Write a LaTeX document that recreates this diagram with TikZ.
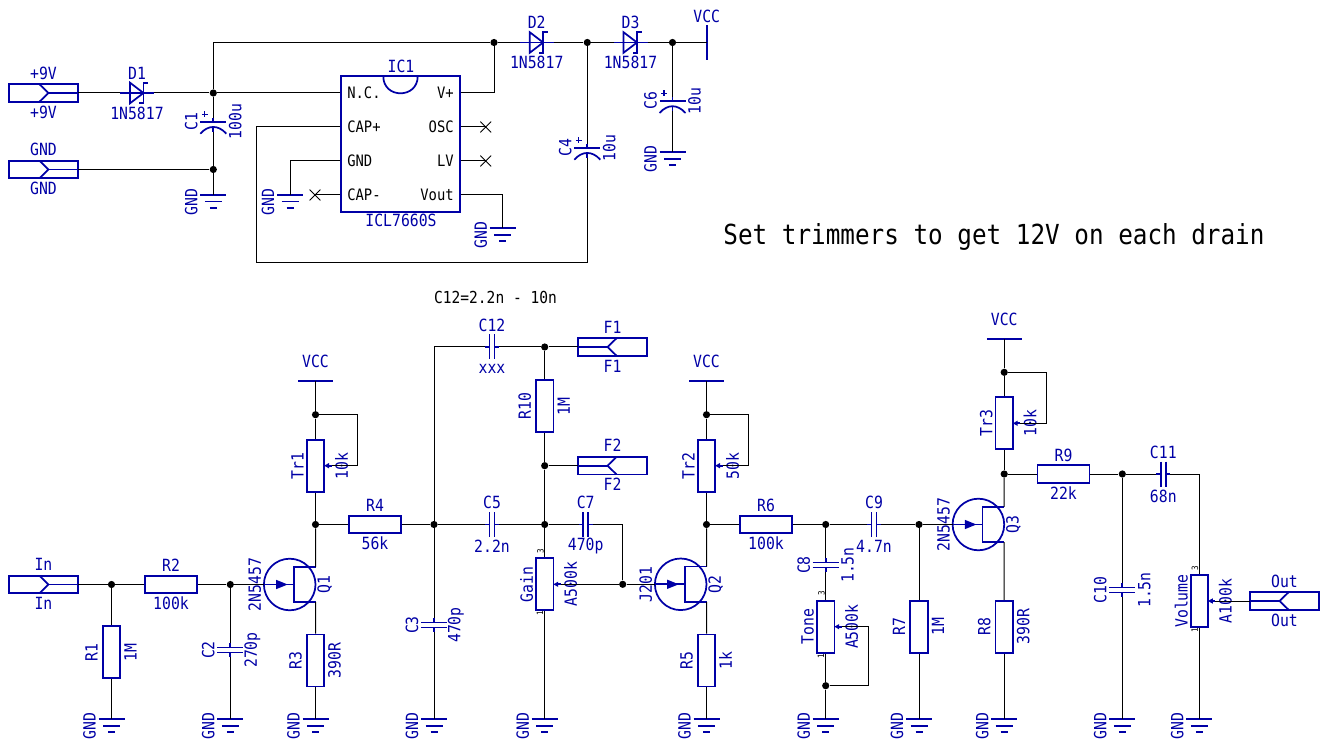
\documentclass[tikz,border=0pt]{standalone}
\usepackage{fontspec}
\setmainfont[FakeStretch=0.88]{DejaVu Sans Mono}
\usepackage{tikz}
\usetikzlibrary{calc}
\usetikzlibrary{shapes.misc}
\definecolor{partblue}{rgb}{0, 0, 0.65}

\tikzset{
    part/.style={draw=partblue, line width=1.3pt},
    wire/.style={draw=black, line width=0.75pt},
    tag/.style={text=partblue, inner sep=0pt, font=\fontsize{12.6}{13}\selectfont},
    tagv/.style={tag, rotate=90},
    pintext/.style={text=black, inner sep=0pt, font=\fontsize{11.8}{12}\selectfont},
    pinno/.style={text=black, inner sep=0pt, rotate=90, font=\fontsize{6.5}{7}\selectfont},
    note/.style={text=black, inner sep=0pt},
    dot/.style={circle, fill=black, inner sep=0pt, minimum size=5.4pt},
    nc/.style={cross out, draw=black, line width=0.6pt, inner sep=0pt, minimum size=7.5pt},
    pics/gnd/.style={code={
        \coordinate (-pin) at (0,0);
        \draw[part] (-13,0) -- (13,0);
        \draw[part] (-8.5,6.5) -- (8.5,6.5);
        \draw[part] (-3.5,13) -- (3.5,13);
        \node[tagv] (-tag) at (-22,7) {GND};
    }},
    pics/vcc/.style={code={
        \coordinate (-pin) at (0,0);
        \draw[part] (-17.3,0) -- (17.3,0);
    }},
    pics/jack/.style={code={
        \coordinate (-pin) at (34.5,0);
        \draw[part] (-34.5,-8.7) rectangle (34.5,8.7);
        \draw[part] (-4,-8.7) -- (5,0) -- (-4,8.7);
        \draw[part] (5,0) -- (34.5,0);
        \node[tag] (-up) at (0,-20) {#1};
        \node[tag] (-down) at (0,19) {#1};
    }},
    pics/diode/.style 2 args={code={
        \coordinate (-a) at (-17,0);
        \coordinate (-c) at (17,0);
        \draw[part] (-17,0) -- (17,0);
        \draw[part] (-7,-10.3) -- (6.5,0) -- (-7,10.3) -- cycle;
        \draw[part] (11,-10.3) -- (6.5,-10.3) -- (6.5,10.3) -- (2,10.3);
        \node[tag] (-name) at (0,-20) {#1};
        \node[tag] (-type) at (0,20) {#2};
    }},
    pics/resh/.style 2 args={code={
        \node[part, minimum width=39pt, minimum height=13pt, inner sep=0pt] (-body) at (0,0) {};
        \node[tag] (-name) at (0,-19) {#1};
        \node[tag] (-val) at (0,19) {#2};
    }},
    pics/resv/.style 2 args={code={
        \node[part, minimum width=13pt, minimum height=39pt, inner sep=0pt] (-body) at (0,0) {};
        \node[tagv] (-name) at (-20,0) {#1};
        \node[tagv] (-val) at (19,0) {#2};
    }},
    pics/pot/.style 2 args={code={
        \node[part, minimum width=13pt, minimum height=39pt, inner sep=0pt] (-body) at (0,0) {};
        \coordinate (-w) at (16,0);
        \draw[part] (16,0) -- (12,0);
        \fill[partblue] (8.7,0) -- (13.5,-2.7) -- (13.5,2.7) -- cycle;
        \node[tagv] (-name) at (-18,0) {#1};
        \node[tagv] (-val) at (26,0) {#2};
    }},
    pics/potnum/.style={code={
        \node[pinno] (-three) at (-4.3,-33) {3};
        \node[pinno] (-one) at (-4.7,29.3) {1};
    }},
    pics/capv/.style 2 args={code={
        \coordinate (-a) at (0,-7);
        \coordinate (-b) at (0,7);
        \draw[part] (-13,-2.5) -- (13,-2.5);
        \draw[part] (-13,2.5) -- (13,2.5);
        \draw[part] (0,-7) -- (0,-2.5);
        \draw[part] (0,2.5) -- (0,7);
        \node[tagv] (-name) at (-22,0) {#1};
        \node[tagv] (-val) at (22,0) {#2};
    }},
    pics/caph/.style 2 args={code={
        \coordinate (-a) at (-7,0);
        \coordinate (-b) at (7,0);
        \draw[part] (-2.5,-12.5) -- (-2.5,12.5);
        \draw[part] (2.5,-12.5) -- (2.5,12.5);
        \draw[part] (-7,0) -- (-2.5,0);
        \draw[part] (2.5,0) -- (7,0);
        \node[tag] (-name) at (0,-22) {#1};
        \node[tag] (-val) at (0,22) {#2};
    }},
    pics/capp/.style 2 args={code={
        \coordinate (-a) at (0,-4);
        \coordinate (-b) at (0,10);
        \draw[part] (-13,0) -- (13,0);
        \draw[part] (-13,12) .. controls (-5,3) and (5,3) .. (13,12);
        \draw[part] (0,-4) -- (0,0);
        \draw[part] (0,5.3) -- (0,10);
        \draw[partblue, line width=0.9pt] (-11.5,-7.5) -- (-5.5,-7.5);
        \draw[partblue, line width=0.9pt] (-8.5,-10.5) -- (-8.5,-4.5);
        \node[tagv] (-name) at (-22,0) {#1};
        \node[tagv] (-val) at (22,0) {#2};
    }},
    pics/jfet/.style 2 args={code={
        \node[part, circle, minimum size=38.7pt, inner sep=0pt] (-ring) at (0,0) {};
        \coordinate (-g) at (-25.8,0);
        \coordinate (-d) at (25.8,-17.7);
        \coordinate (-s) at (25.8,17.7);
        \draw[part] (-25.8,0) -- (4,0);
        \fill[partblue] (-2,0) -- (-13.6,-4.7) -- (-13.6,4.7) -- cycle;
        \draw[part] (25.8,-17.7) -- (4,-17.7) -- (4,17.7) -- (25.8,17.7);
        \node[tagv] (-type) at (-35,0) {#1};
        \node[tagv] (-name) at (35,0) {#2};
    }}
}

\begin{document}
\begin{tikzpicture}[x=0.75pt, y=-0.75pt]
    \useasboundingbox (0,0) rectangle (1324,741);

    \pic (jvin) at (43.5,93) {jack=+9V};
    \pic (jgnd) at (43.5,169.5) {jack=GND};
    \pic (d1) at (137,93) {diode={D1}{1N5817}};
    \pic (d2) at (536.7,42.5) {diode={D2}{1N5817}};
    \pic (d3) at (630.5,42.5) {diode={D3}{1N5817}};
    \pic (c1) at (213.3,121.7) {capp={C1}{100u}};
    \pic (c4) at (587.3,147.7) {capp={C4}{10u}};
    \pic (c6) at (672.5,101) {capp={C6}{10u}};
    \pic (gc1) at (213.3,195) {gnd};
    \pic (gic) at (290,195) {gnd};
    \pic (gvo) at (502.7,228.3) {gnd};
    \pic (gc6) at (672.5,152.3) {gnd};
    \pic[rotate=90] (vtop) at (706.7,42.5) {vcc};
    \node[tag] (vtopt) at (706.7,16.7) {VCC};

    \node[part, minimum width=89.3pt, minimum height=101.5pt, inner sep=0pt] (ic) at (400.5,144) {};
    \draw[part] (383.3,76.3) .. controls (383.3,99) and (417.7,99) .. (417.7,76.3);
    \node[tag] (icname) at (401,66) {IC1};
    \node[tag] (ictype) at (401,220) {ICL7660S};
    \node[pintext, anchor=west] (pnc) at (347,93) {N.C.};
    \node[pintext, anchor=west] (pcp) at (347,127) {CAP+};
    \node[pintext, anchor=west] (pgn) at (347,161) {GND};
    \node[pintext, anchor=west] (pcm) at (347,195) {CAP-};
    \node[pintext, anchor=east] (pvp) at (454,93) {V+};
    \node[pintext, anchor=east] (pos) at (454,127) {OSC};
    \node[pintext, anchor=east] (plv) at (454,161) {LV};
    \node[pintext, anchor=east] (pvo) at (454,195) {Vout};
    \node[nc] (xcm) at (315,195) {};
    \node[nc] (xos) at (485.7,127) {};
    \node[nc] (xlv) at (485.7,161) {};
    \coordinate (loop) at (256,263);

    \node[dot] (n1) at (213.3,93) {};
    \node[dot] (n2) at (213.3,169.5) {};
    \node[dot] (n3) at (494,42.5) {};
    \node[dot] (n4) at (587.3,42.5) {};
    \node[dot] (n5) at (672.5,42.5) {};

    \draw[wire] (jvin-pin) -- (d1-a);
    \draw[wire] (d1-c) -- (n1);
    \draw[wire] (n1) -- (c1-a);
    \draw[wire] (c1-b) -- (n2);
    \draw[wire] (n2) -- (gc1-pin);
    \draw[wire] (jgnd-pin) -- (n2);
    \draw[wire] (n1) -- (pnc.west -| ic.west);
    \draw[wire] (n1) |- (n3);
    \draw[wire] (n3) -- (d2-a);
    \draw[wire] (d2-c) -- (n4);
    \draw[wire] (n4) -- (d3-a);
    \draw[wire] (d3-c) -- (n5);
    \draw[wire] (n5) -- (vtop-pin);
    \draw[wire] (n5) -- (c6-a);
    \draw[wire] (c6-b) -- (gc6-pin);
    \draw[wire] (n4) -- (c4-a);
    \draw[wire] (n3) |- (pvp.east -| ic.east);
    \draw[wire] (pcp.west -| ic.west) -| (loop) -| (c4-b);
    \draw[wire] (pgn.west -| ic.west) -| (gic-pin);
    \draw[wire] (pcm.west -| ic.west) -- (xcm.center);
    \draw[wire] (pos.east -| ic.east) -- (xos.center);
    \draw[wire] (plv.east -| ic.east) -- (xlv.center);
    \draw[wire] (pvo.east -| ic.east) -| (gvo-pin);

    \node[note, font=\fontsize{20.7}{22}\selectfont] (hint) at (994,236.5) {Set trimmers to get 12V on each drain};
    \node[note, font=\fontsize{12.4}{13}\selectfont] (c12note) at (495.5,297) {C12=2.2n - 10n};

    \pic (jin) at (43.5,584.5) {jack=In};
    \pic[xscale=-1] (jf1) at (612.5,347) {jack=F1};
    \pic[xscale=-1] (jf2) at (612.5,465.7) {jack=F2};
    \pic[xscale=-1] (jout) at (1284.5,601) {jack=Out};

    \pic (r1) at (111.5,652.2) {resv={R1}{1M}};
    \pic (r2) at (171,584.5) {resh={R2}{100k}};
    \pic (r3) at (315.5,660.5) {resv={R3}{390R}};
    \pic (r4) at (375,524.5) {resh={R4}{56k}};
    \pic (r5) at (706.5,660.5) {resv={R5}{1k}};
    \pic (r6) at (766,524.5) {resh={R6}{100k}};
    \pic (r7) at (919,626.7) {resv={R7}{1M}};
    \pic (r8) at (1004.2,626.7) {resv={R8}{390R}};
    \pic (r9) at (1063.5,474) {resh={R9}{22k}};
    \pic (r10) at (544.7,406.3) {resv={R10}{1M}};

    \pic (c2) at (230.3,650) {capv={C2}{270p}};
    \pic (c3) at (434,625) {capv={C3}{470p}};
    \pic (c5) at (492,524.5) {caph={C5}{2.2n}};
    \pic (c7) at (585.7,524.5) {caph={C7}{470p}};
    \pic (c8) at (825.7,565) {capv={C8}{1.5n}};
    \pic (c9) at (874,524.5) {caph={C9}{4.7n}};
    \pic (c10) at (1122.3,590) {capv={C10}{1.5n}};
    \pic (c11) at (1163.3,474) {caph={C11}{68n}};
    \pic (c12) at (492,347) {caph={C12}{xxx}};

    \pic (q1) at (289.7,584.5) {jfet={2N5457}{Q1}};
    \pic (q2) at (680.7,584.3) {jfet={J201}{Q2}};
    \pic (q3) at (978.4,524.5) {jfet={2N5457}{Q3}};

    \pic (tr1) at (315.5,465.7) {pot={Tr1}{10k}};
    \pic (tr2) at (706.5,465.7) {pot={Tr2}{50k}};
    \pic (tr3) at (1004.2,423.3) {pot={Tr3}{10k}};
    \pic (gain) at (544.7,584.3) {pot={Gain}{A500k}};
    \pic (gainn) at (544.7,584.3) {potnum};
    \pic (tone) at (825.7,626.7) {pot={Tone}{A500k}};
    \pic (tonen) at (825.7,626.7) {potnum};
    \pic (vol) at (1199.3,601) {pot={Volume}{A100k}};
    \pic (voln) at (1199.3,601) {potnum};

    \pic (v1) at (315.5,380.7) {vcc};
    \pic (v2) at (706.5,380.7) {vcc};
    \pic (v3) at (1004.2,339) {vcc};
    \node[tag] (v1t) at (315.5,361.7) {VCC};
    \node[tag] (v2t) at (706.5,361.7) {VCC};
    \node[tag] (v3t) at (1004.2,319) {VCC};

    \pic (gr1) at (111.5,719.3) {gnd};
    \pic (gc2) at (230.3,719.3) {gnd};
    \pic (gr3) at (315.5,719.3) {gnd};
    \pic (gc3) at (434,719.3) {gnd};
    \pic (ggain) at (544.7,719.3) {gnd};
    \pic (gr5) at (706.5,719.3) {gnd};
    \pic (gtone) at (825.7,719.3) {gnd};
    \pic (gr7) at (919,719.3) {gnd};
    \pic (gr8) at (1004.2,719.3) {gnd};
    \pic (gc10) at (1122.3,719.3) {gnd};
    \pic (gvol) at (1199.3,719.3) {gnd};

    \node[dot] (m1) at (111.5,584.5) {};
    \node[dot] (m2) at (230.3,584.5) {};
    \node[dot] (m3) at (315.5,524.5) {};
    \node[dot] (m4) at (315.5,414.7) {};
    \node[dot] (m5) at (434,524.5) {};
    \node[dot] (m6) at (544.7,347) {};
    \node[dot] (m7) at (544.7,465.7) {};
    \node[dot] (m8) at (544.7,524.5) {};
    \node[dot] (m9) at (622.7,584.3) {};
    \node[dot] (m10) at (706.5,524.5) {};
    \node[dot] (m11) at (706.5,414.7) {};
    \node[dot] (m12) at (825.7,524.5) {};
    \node[dot] (m13) at (825.7,685.7) {};
    \node[dot] (m14) at (919,524.5) {};
    \node[dot] (m15) at (1004.2,474) {};
    \node[dot] (m16) at (1004.2,372.3) {};
    \node[dot] (m17) at (1122.3,474) {};

    \coordinate (k1) at (357.7,465.7);
    \coordinate (k2) at (748.7,465.7);
    \coordinate (k3) at (1046.7,423.3);
    \coordinate (k4) at (868.3,626.7);

    \draw[wire] (jin-pin) -- (m1);
    \draw[wire] (m1) -- (r2-body.west);
    \draw[wire] (r2-body.east) -- (m2);
    \draw[wire] (m2) -- (q1-g);
    \draw[wire] (m1) -- (r1-body.north);
    \draw[wire] (r1-body.south) -- (gr1-pin);
    \draw[wire] (m2) -- (c2-a);
    \draw[wire] (c2-b) -- (gc2-pin);
    \draw[wire] (q1-d) -- (m3);
    \draw[wire] (q1-s) -- (r3-body.north);
    \draw[wire] (r3-body.south) -- (gr3-pin);
    \draw[wire] (m3) -- (tr1-body.south);
    \draw[wire] (tr1-body.north) -- (m4);
    \draw[wire] (m4) -- (v1-pin);
    \draw[wire] (tr1-w) -- (k1) |- (m4);
    \draw[wire] (m3) -- (r4-body.west);
    \draw[wire] (r4-body.east) -- (m5);

    \draw[wire] (m5) |- (c12-a);
    \draw[wire] (c12-b) -- (m6);
    \draw[wire] (m6) -- (jf1-pin);
    \draw[wire] (m6) -- (r10-body.north);
    \draw[wire] (r10-body.south) -- (m7);
    \draw[wire] (m7) -- (jf2-pin);
    \draw[wire] (m7) -- (m8);
    \draw[wire] (m5) -- (c5-a);
    \draw[wire] (c5-b) -- (m8);
    \draw[wire] (m8) -- (c7-a);
    \draw[wire] (c7-b) -| (m9);
    \draw[wire] (m8) -- (gain-body.north);
    \draw[wire] (gain-body.south) -- (ggain-pin);
    \draw[wire] (gain-w) -- (m9);
    \draw[wire] (m9) -- (q2-g);
    \draw[wire] (m5) -- (c3-a);
    \draw[wire] (c3-b) -- (gc3-pin);

    \draw[wire] (q2-d) -- (m10);
    \draw[wire] (q2-s) -- (r5-body.north);
    \draw[wire] (r5-body.south) -- (gr5-pin);
    \draw[wire] (m10) -- (tr2-body.south);
    \draw[wire] (tr2-body.north) -- (m11);
    \draw[wire] (m11) -- (v2-pin);
    \draw[wire] (tr2-w) -- (k2) |- (m11);
    \draw[wire] (m10) -- (r6-body.west);
    \draw[wire] (r6-body.east) -- (m12);
    \draw[wire] (m12) -- (c9-a);
    \draw[wire] (c9-b) -- (m14);
    \draw[wire] (m12) -- (c8-a);
    \draw[wire] (c8-b) -- (tone-body.north);
    \draw[wire] (tone-body.south) -- (m13);
    \draw[wire] (m13) -- (gtone-pin);
    \draw[wire] (tone-w) -- (k4) |- (m13);
    \draw[wire] (m14) -- (r7-body.north);
    \draw[wire] (r7-body.south) -- (gr7-pin);
    \draw[wire] (m14) -- (q3-g);

    \draw[wire] (q3-d) -- (m15);
    \draw[wire] (q3-s) -- (r8-body.north);
    \draw[wire] (r8-body.south) -- (gr8-pin);
    \draw[wire] (m15) -- (tr3-body.south);
    \draw[wire] (tr3-body.north) -- (m16);
    \draw[wire] (m16) -- (v3-pin);
    \draw[wire] (tr3-w) -- (k3) |- (m16);
    \draw[wire] (m15) -- (r9-body.west);
    \draw[wire] (r9-body.east) -- (m17);
    \draw[wire] (m17) -- (c11-a);
    \draw[wire] (m17) -- (c10-a);
    \draw[wire] (c10-b) -- (gc10-pin);
    \draw[wire] (c11-b) -| (vol-body.north);
    \draw[wire] (vol-body.south) -- (gvol-pin);
    \draw[wire] (vol-w) -- (jout-pin);
\end{tikzpicture}
\end{document}
